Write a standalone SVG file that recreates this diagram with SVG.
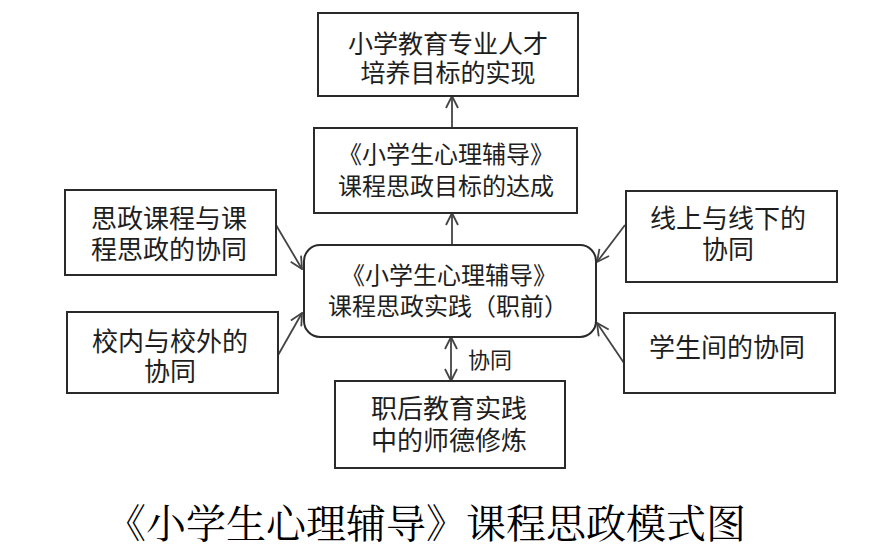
<svg xmlns="http://www.w3.org/2000/svg" width="884" height="552" viewBox="0 0 884 552">
<defs>
<style>
.box{fill:#fff;stroke:#2a2a2a;stroke-width:2}
.t{font-family:"Noto Sans CJK SC","Noto Sans",sans-serif;fill:#1e1e1e;text-anchor:middle}
.c{stroke:#444;stroke-width:1.8;fill:none}
.title{font-family:"Noto Serif CJK SC","Noto Sans CJK SC",serif;font-size:40px;fill:#000;text-anchor:middle}
</style>
<marker id="ah" viewBox="0 0 14 14" refX="13" refY="7" markerWidth="14" markerHeight="14" markerUnits="userSpaceOnUse" orient="auto-start-reverse">
<path d="M1,1 L13,7 L1,13" fill="none" stroke="#444" stroke-width="1.8"/>
</marker>
</defs>
<rect width="884" height="552" fill="#fff"/>
<g id="connectors">
<line class="c" x1="452" y1="128" x2="452" y2="96" marker-end="url(#ah)"/>
<line class="c" x1="452" y1="245" x2="452" y2="213" marker-end="url(#ah)"/>
<line class="c" x1="451" y1="337" x2="451" y2="381" marker-start="url(#ah)" marker-end="url(#ah)"/>
<line class="c" x1="276" y1="225" x2="302" y2="269" marker-end="url(#ah)"/>
<line class="c" x1="277" y1="357" x2="302" y2="313" marker-end="url(#ah)"/>
<line class="c" x1="625" y1="225" x2="597" y2="262" marker-end="url(#ah)"/>
<line class="c" x1="624" y1="363" x2="597" y2="323" marker-end="url(#ah)"/>
<text class="t" x="490" y="368" font-size="22">协同</text>
</g>
<g id="goal">
<rect class="box" x="318" y="13" width="260" height="83"/>
<text class="t" font-size="25"><tspan x="448" y="53">小学教育专业人才</tspan><tspan x="448" y="82">培养目标的实现</tspan></text>
</g>
<g id="target">
<rect class="box" x="314" y="128" width="263" height="85"/>
<text class="t" font-size="24"><tspan x="446" y="163">《小学生心理辅导》</tspan><tspan x="446" y="195">课程思政目标的达成</tspan></text>
</g>
<g id="center">
<rect class="box" x="304" y="245" width="292" height="92" rx="16" ry="16"/>
<text class="t" font-size="24"><tspan x="449" y="284">《小学生心理辅导》</tspan><tspan x="448" y="315">课程思政实践（职前）</tspan></text>
</g>
<g id="left1">
<rect class="box" x="65" y="190" width="211" height="85"/>
<text class="t" font-size="26"><tspan x="169" y="228">思政课程与课</tspan><tspan x="169" y="259">程思政的协同</tspan></text>
</g>
<g id="left2">
<rect class="box" x="67" y="312" width="211" height="81"/>
<text class="t" font-size="26"><tspan x="170" y="351">校内与校外的</tspan><tspan x="170" y="381">协同</tspan></text>
</g>
<g id="right1">
<rect class="box" x="626" y="191" width="211" height="91"/>
<text class="t" font-size="26"><tspan x="728" y="228">线上与线下的</tspan><tspan x="728" y="259">协同</tspan></text>
</g>
<g id="right2">
<rect class="box" x="624" y="313" width="211" height="80"/>
<text class="t" x="727" y="357" font-size="26">学生间的协同</text>
</g>
<g id="bottom">
<rect class="box" x="335" y="381" width="230" height="87"/>
<text class="t" font-size="26"><tspan x="449" y="418">职后教育实践</tspan><tspan x="449" y="450">中的师德修炼</tspan></text>
</g>
<text class="title" x="426" y="538">《小学生心理辅导》课程思政模式图</text>
</svg>
